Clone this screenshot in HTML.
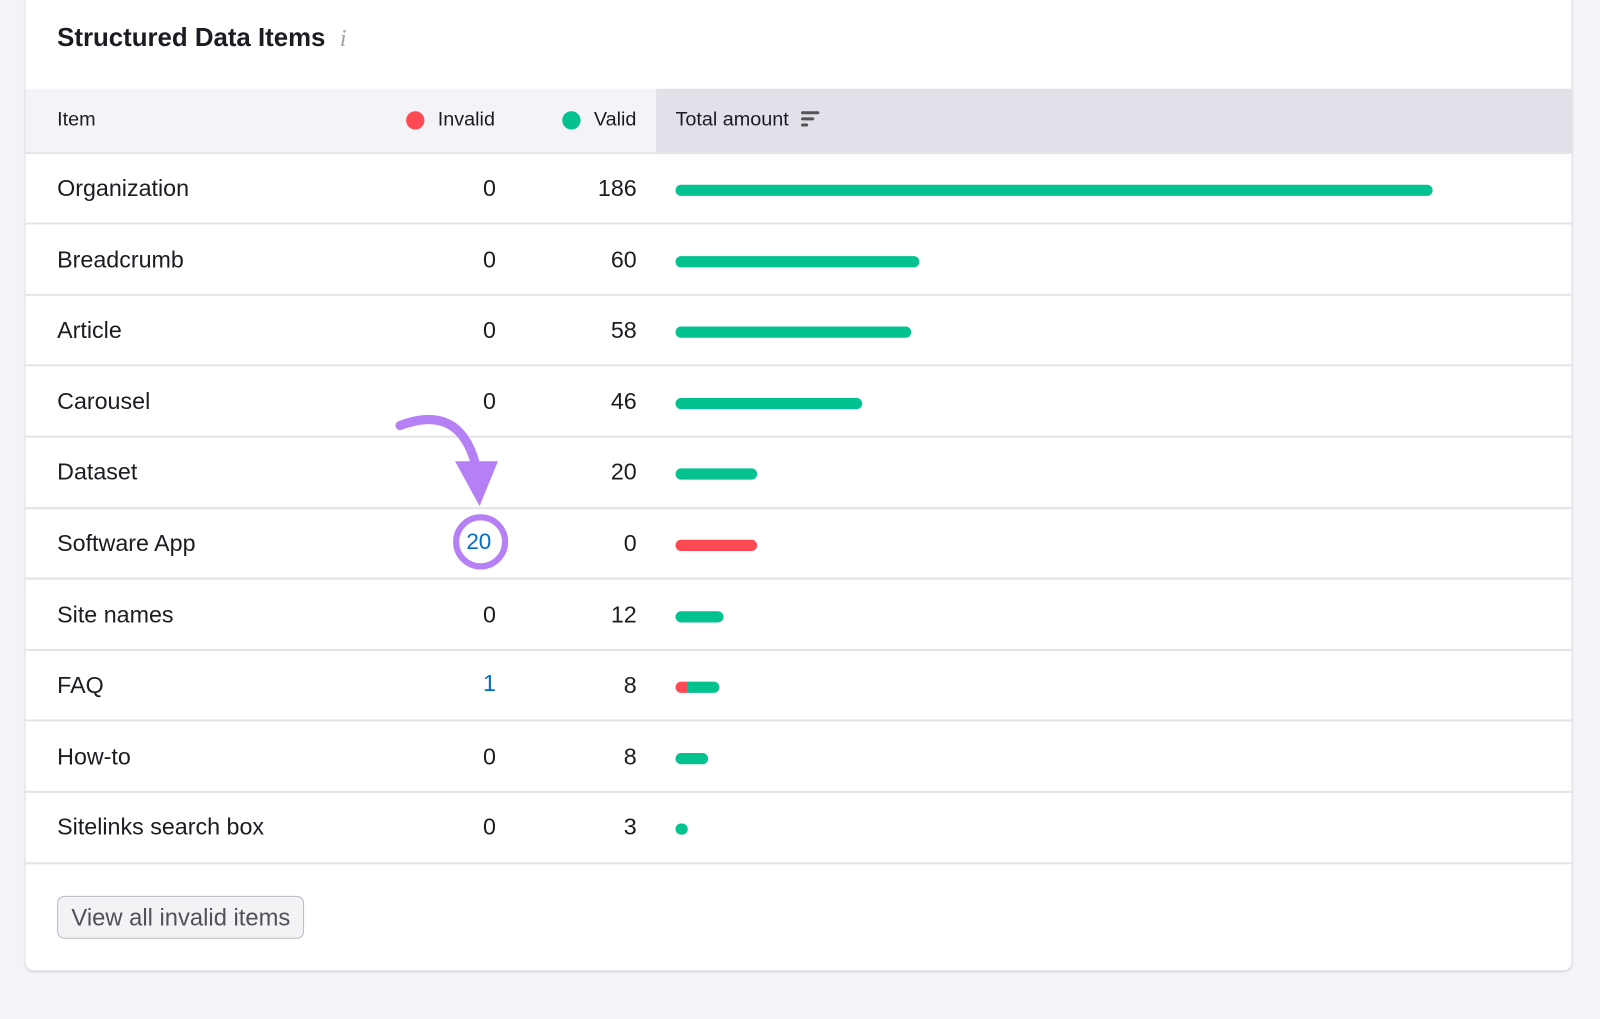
<!DOCTYPE html>
<html><head><meta charset="utf-8"><style>
body{margin:0;width:1600px;height:999px;background:#f4f4f8;font-family:"Liberation Sans",Arial,sans-serif;position:relative;overflow:hidden}
#w{position:absolute;left:0;top:0;width:1600px;height:999px;transform:scale(1.0204);transform-origin:0 0}
.card{position:absolute;left:25px;top:-10px;width:1515px;height:961px;background:#fff;border-radius:8px;box-shadow:0 1px 3px rgba(0,0,0,.18)}
.abs{position:absolute}
.t{position:absolute;font-size:22.8px;color:#1b1b22;white-space:nowrap}
.r{text-align:right}
.line{position:absolute;left:25px;width:1515px;height:2px;background:#e3e3ea}
.bar{position:absolute;height:11px;border-radius:6px;background:#04c290}
.h{font-size:19.4px}
</style></head><body><div id="w">
<div class="card"></div>
<div class="t" style="left:56px;top:23px;font-size:25.3px;font-weight:bold">Structured Data Items</div>
<div class="t" style="left:333px;top:25px;font-size:24px;color:#a0a0aa;font-style:italic;font-family:'Liberation Serif',serif">i</div>
<div class="abs" style="left:25px;top:87px;width:618px;height:63px;background:#f4f4f8"></div>
<div class="abs" style="left:643px;top:87px;width:897px;height:63px;background:#e1e1ea"></div>
<div class="t h" style="left:56px;top:106px">Item</div>
<div class="abs" style="left:398px;top:109px;width:18px;height:18px;border-radius:50%;background:#ff4953"></div>
<div class="t h" style="left:429px;top:106px">Invalid</div>
<div class="abs" style="left:551px;top:109px;width:18px;height:18px;border-radius:50%;background:#04c290"></div>
<div class="t h" style="left:582px;top:106px">Valid</div>
<div class="t h" style="left:662px;top:106px">Total amount</div>
<div class="abs" style="left:785px;top:109px;width:18px;height:3px;background:#555;border-radius:2px"></div>
<div class="abs" style="left:785px;top:115px;width:13px;height:3px;background:#555;border-radius:2px"></div>
<div class="abs" style="left:785px;top:121px;width:7px;height:3px;background:#555;border-radius:2px"></div>
<div class="line" style="top:149px"></div>
<div class="line" style="top:218px"></div>
<div class="line" style="top:288px"></div>
<div class="line" style="top:357px"></div>
<div class="line" style="top:427px"></div>
<div class="line" style="top:497px"></div>
<div class="line" style="top:566px"></div>
<div class="line" style="top:636px"></div>
<div class="line" style="top:705px"></div>
<div class="line" style="top:775px"></div>
<div class="line" style="top:845px"></div>

<div class="t" style="left:56px;top:171px">Organization</div><div class="t r" style="left:440px;width:46px;top:171px">0</div><div class="t r" style="left:560px;width:64px;top:171px">186</div><div class="bar" style="left:662px;top:181px;width:742px"></div>
<div class="t" style="left:56px;top:241px">Breadcrumb</div><div class="t r" style="left:440px;width:46px;top:241px">0</div><div class="t r" style="left:560px;width:64px;top:241px">60</div><div class="bar" style="left:662px;top:251px;width:239px"></div>
<div class="t" style="left:56px;top:310px">Article</div><div class="t r" style="left:440px;width:46px;top:310px">0</div><div class="t r" style="left:560px;width:64px;top:310px">58</div><div class="bar" style="left:662px;top:320px;width:231px"></div>
<div class="t" style="left:56px;top:380px">Carousel</div><div class="t r" style="left:440px;width:46px;top:380px">0</div><div class="t r" style="left:560px;width:64px;top:380px">46</div><div class="bar" style="left:662px;top:390px;width:183px"></div>
<div class="t" style="left:56px;top:449px">Dataset</div><div class="t r" style="left:560px;width:64px;top:449px">20</div><div class="bar" style="left:662px;top:459px;width:80px"></div>
<div class="t" style="left:56px;top:519px">Software App</div><div class="t r" style="left:560px;width:64px;top:519px">0</div><div class="bar" style="left:662px;top:529px;width:80px;background:#ff4953"></div>
<div class="t" style="left:56px;top:589px">Site names</div><div class="t r" style="left:440px;width:46px;top:589px">0</div><div class="t r" style="left:560px;width:64px;top:589px">12</div><div class="bar" style="left:662px;top:599px;width:47px"></div>
<div class="t" style="left:56px;top:658px">FAQ</div><div class="t r" style="left:440px;width:46px;top:656px;color:#006dca">1</div><div class="t r" style="left:560px;width:64px;top:658px">8</div><div class="bar" style="left:662px;top:668px;width:43px;background:linear-gradient(90deg,#ff4953 0 12px,#04c290 12px)"></div>
<div class="t" style="left:56px;top:728px">How-to</div><div class="t r" style="left:440px;width:46px;top:728px">0</div><div class="t r" style="left:560px;width:64px;top:728px">8</div><div class="bar" style="left:662px;top:738px;width:32px"></div>
<div class="t" style="left:56px;top:797px">Sitelinks search box</div><div class="t r" style="left:440px;width:46px;top:797px">0</div><div class="t r" style="left:560px;width:64px;top:797px">3</div><div class="bar" style="left:662px;top:807px;width:12px"></div>

<svg class="abs" style="left:380px;top:395px" width="140" height="180">
<path d="M12 22 Q70 0 86 60" fill="none" stroke="#b57ff5" stroke-width="9" stroke-linecap="round"/>
<polygon points="66,57 108,57 90,101" fill="#b57ff5"/>
<circle cx="91" cy="136" r="24" fill="#fff" stroke="#b57ff5" stroke-width="6"/>
</svg>
<div class="t" style="left:457px;top:518px;color:#006dca;font-size:22px">20</div>

<div class="abs" style="left:56px;top:878px;width:242px;height:42px;border:1px solid #b8b8c2;border-radius:7px;background:#f3f3f6;box-sizing:border-box"></div>
<div class="t" style="left:70px;top:886px;font-size:23.3px;color:#505058">View all invalid items</div>
</div></body></html>
